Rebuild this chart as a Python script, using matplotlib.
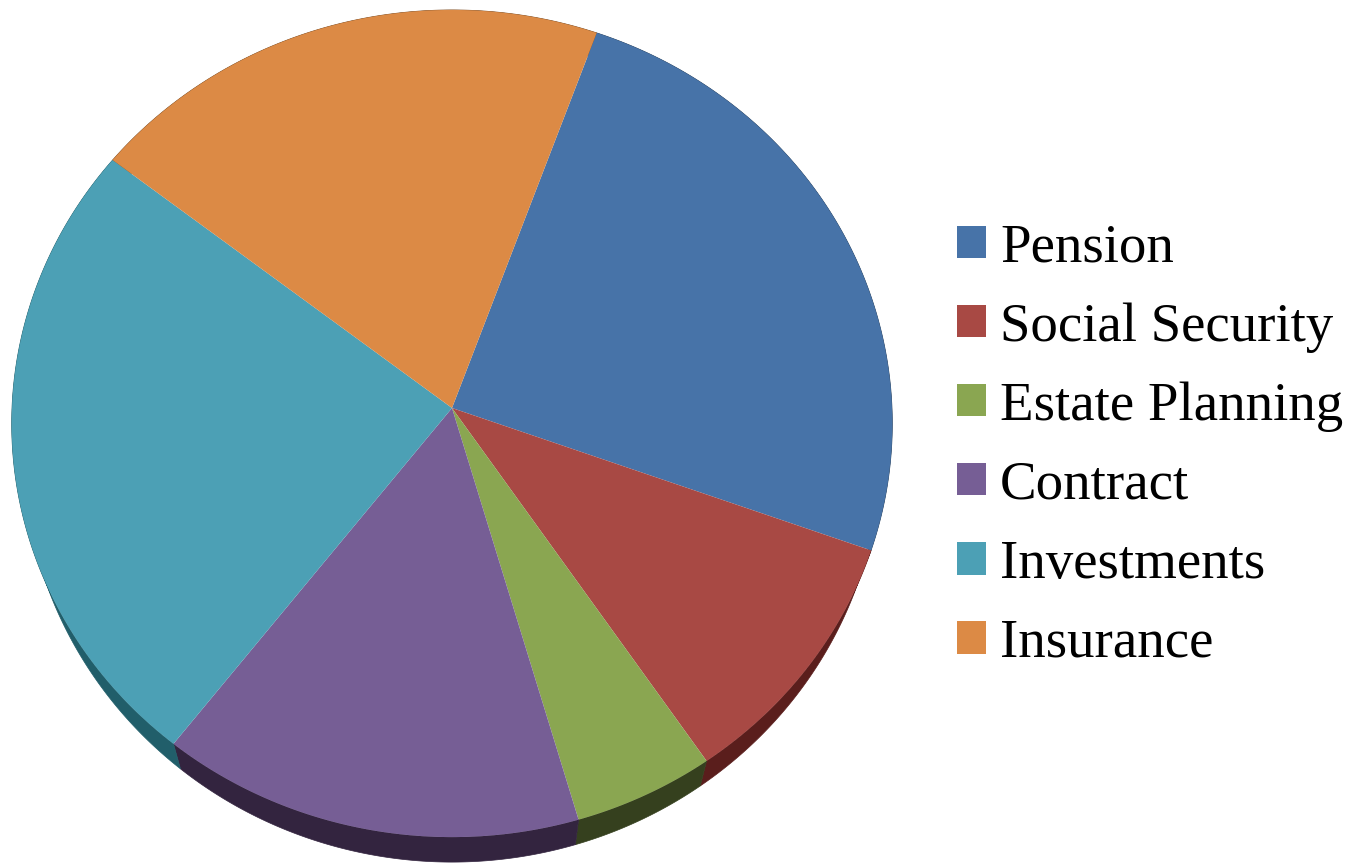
import numpy as np
import matplotlib
matplotlib.use("Agg")
import matplotlib.pyplot as plt
from matplotlib.transforms import Transform
from matplotlib.path import Path
from matplotlib.patches import Polygon

# ---- data ----
categories = ["Pension", "Social Security", "Estate Planning", "Contract", "Investments", "Insurance"]
values = [25, 10, 5, 15, 25, 20]
top_colors = ["#4773A8", "#A84944", "#8AA651", "#765E95", "#4CA0B5", "#DC8A45"]
side_colors = ["#26405E", "#5A1E1C", "#35401E", "#33243F", "#215E6A", "#7A4A20"]

# ---- perspective (tilted disc) geometry in pixel coords ----
CX, CY = 452.0, 408.0
A, B, K = 440.0, 413.0, 0.0375
DEPTH = 25.0
SHRINK = 0.975


class Tilt(Transform):
    input_dims = 2
    output_dims = 2
    is_separable = False
    has_inverse = False

    def transform_non_affine(self, values):
        values = np.asarray(values, dtype=float)
        u, v = values[:, 0], values[:, 1]
        d = 1.0 + K * v
        return np.column_stack([CX + A * u / d, CY - B * v / d])

    def transform_path_non_affine(self, path):
        pts = []
        t = np.linspace(0, 1, 60)
        for seg, code in path.iter_bezier():
            pts.append(seg(t))
        verts = np.concatenate(pts)
        verts = np.vstack([verts, verts[:1]])
        return Path(self.transform_non_affine(verts), closed=True)


W, H = 1358, 864
fig = plt.figure(figsize=(W / 100, H / 100), dpi=100)
ax = fig.add_axes([0, 0, 1, 1])

wedges, _ = ax.pie(values, labels=None, colors=top_colors, startangle=70.1,
                   counterclock=False, wedgeprops=dict(linewidth=0))
tilt = Tilt()
for w in wedges:
    w.set_transform(tilt + ax.transData)
    w.set_zorder(3)

# side walls of the 3D pie
for w, sc in zip(wedges, side_colors):
    th = np.radians(np.linspace(w.theta1, w.theta2, 200))
    top = tilt.transform_non_affine(np.column_stack([np.cos(th), np.sin(th)]))
    bot = np.column_stack([CX + (top[:, 0] - CX) * SHRINK, top[:, 1] + DEPTH])
    poly = Polygon(np.vstack([top, bot[::-1]]), closed=True, facecolor=sc,
                   edgecolor=sc, linewidth=0.5, zorder=2)
    ax.add_patch(poly)

ax.set_aspect("auto")
ax.set_xlim(0, W)
ax.set_ylim(H, 0)
ax.axis("off")

leg = ax.legend(wedges, categories, loc="center left",
                bbox_to_anchor=(957 / W, 1 - 446 / H), frameon=False,
                prop=dict(family="Liberation Serif", size=39.5),
                handlelength=0.53, handleheight=0.53, handletextpad=0.255,
                labelspacing=0.52, borderpad=0, borderaxespad=0)

fig.savefig("out.png", dpi=100)
